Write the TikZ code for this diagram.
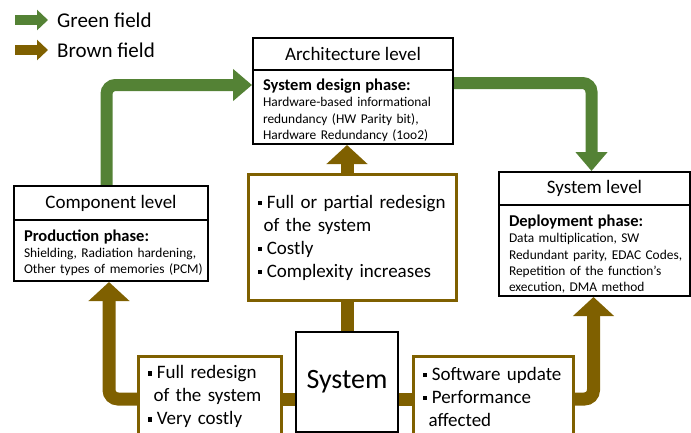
\documentclass[tikz,border=0pt]{standalone}
\usepackage{fontspec}
\setmainfont{Carlito}
\usetikzlibrary{arrows.meta}
\definecolor{fieldgreen}{RGB}{84,130,53}
\definecolor{fieldbrown}{RGB}{127,96,0}
\pgfdeclarelayer{background}
\pgfsetlayers{background,main}
% small square bullet
\newcommand{\sqbul}{\rule[0.16em]{0.22em}{0.22em}\hspace{0.27em}}
\newcommand{\contline}{\hspace*{6pt}}
% bold first line of a phase box, with a strut that pushes the block down a little
\newcommand{\phasehead}[1]{\mbox{\rule{0pt}{#1}\fontsize{16.5}{20}\selectfont\bfseries}}

\tikzset{
  hdr/.style={draw, line width=2pt, fill=white, anchor=north west, inner sep=0pt,
    font=\fontsize{19}{23}\selectfont},
  phasebody/.style={draw, line width=2pt, fill=white, anchor=north west,
    inner xsep=10pt, inner ysep=0pt, align=left,
    font=\fontsize{13.4}{16.2}\selectfont},
  effectbox/.style={draw=fieldbrown, line width=3pt, fill=white, anchor=north west,
    inner xsep=9pt, inner ysep=0pt, align=left,
    font=\fontsize{19}{23}\selectfont},
  greenarrow/.style={draw=fieldgreen, line width=12pt, rounded corners=9pt,
    -{Triangle[length=19pt,width=31pt]}},
  brownarrow/.style={draw=fieldbrown, line width=13pt, rounded corners=9pt,
    -{Triangle[length=19pt,width=40pt]}},
  brownline/.style={draw=fieldbrown, line width=13pt},
  legendtext/.style={anchor=west, inner sep=0pt, font=\fontsize{21}{25}\selectfont},
}

\begin{document}
\begin{tikzpicture}[x=1pt,y=-1pt]
\useasboundingbox (0,0) rectangle (691,432);
\clip (0,0) rectangle (691,432);

% legend
\coordinate (lgGs) at (15,20);
\coordinate (lgGe) at (48,20);
\coordinate (lgBs) at (15,50);
\coordinate (lgBe) at (48,50);
\draw[draw=fieldgreen, line width=10pt, -{Triangle[length=11pt,width=20pt]}] (lgGs) -- (lgGe);
\draw[draw=fieldbrown, line width=10pt, -{Triangle[length=11pt,width=20pt]}] (lgBs) -- (lgBe);
\node[legendtext] (lgG) at (57,20) {Green field};
\node[legendtext] (lgB) at (57,50) {Brown field};

% architecture level
\node[hdr, minimum width=200pt, minimum height=32pt] (archH) at (252,37) {Architecture level};
\node[phasebody, minimum width=200pt, minimum height=74pt, text width=180pt] (archB) at (252,69)
  {\mbox{\rule{0pt}{18pt}\fontsize{16.5}{20}\selectfont\bfseries System design phase:}\\
   \mbox{Hardware-based informational}\\
   \mbox{redundancy (HW Parity bit),}\\
   \mbox{Hardware Redundancy (1oo2)}};

% component level
\node[hdr, minimum width=194pt, minimum height=34pt] (compH) at (13,185) {Component level};
\node[phasebody, minimum width=194pt, minimum height=61pt, text width=174pt] (compB) at (13,219)
  {\mbox{\rule{0pt}{16pt}\fontsize{16.5}{20}\selectfont\bfseries Production phase:}\\
   \mbox{Shielding, Radiation hardening,}\\
   \mbox{Other types of memories (PCM)}};

% system level
\node[hdr, minimum width=191pt, minimum height=33pt] (sysH) at (498,171) {System level};
\node[phasebody, minimum width=191pt, minimum height=91pt, text width=171pt] (sysB) at (498,204)
  {\mbox{\rule{0pt}{19pt}\fontsize{16.5}{20}\selectfont\bfseries Deployment phase:}\\
   \mbox{Data multiplication, SW}\\
   \mbox{Redundant parity, EDAC Codes,}\\
   \mbox{Repetition of the function’s}\\
   \mbox{execution, DMA method}};

% brown field consequences
\node[effectbox, minimum width=208pt, minimum height=126pt, text width=190pt] (midB) at (247,173)
  {\sqbul Full or partial redesign\\
   \contline of the system\\
   \sqbul Costly\\
   \sqbul Complexity increases};
\node[effectbox, minimum width=143pt, minimum height=80pt, text width=125pt] (leftB) at (137,355)
  {\sqbul Full redesign\\
   \contline of the system\\
   \sqbul Very costly};
\node[effectbox, minimum width=160pt, minimum height=80pt, text width=142pt] (rightB) at (412,355)
  {\sqbul Software update\\
   \sqbul Performance\\
   \contline affected};

% the system itself
\node[draw, line width=2pt, fill=white, anchor=north west, minimum width=102pt,
  minimum height=100pt, font=\fontsize{28}{32}\selectfont] (sysN) at (295,331) {System};

% connectors
\coordinate (busY) at (0,399);
\coordinate (midX) at (347,0);
\begin{pgfonlayer}{background}
  \draw[greenarrow] ([xshift=-4.5pt]compH.north) |- ([yshift=-16pt]archB.north west);
  \draw[greenarrow] ([yshift=-14pt]archB.north east) -| ([xshift=-3pt]sysH.north);
  \draw[brownarrow] (leftB.west |- busY) -| ([xshift=-2pt]compB.south);
  \draw[brownarrow] (rightB.east |- busY) -| ([xshift=-1pt]sysB.south);
  \draw[brownline] (leftB.east |- busY) -- (sysN.west |- busY);
  \draw[brownline] (sysN.east |- busY) -- (rightB.west |- busY);
  \draw[brownline] (midX |- sysN.north) -- (midX |- midB.south);
  \draw[brownarrow] (midX |- midB.north) -- (midX |- archB.south);
\end{pgfonlayer}
\end{tikzpicture}
\end{document}
